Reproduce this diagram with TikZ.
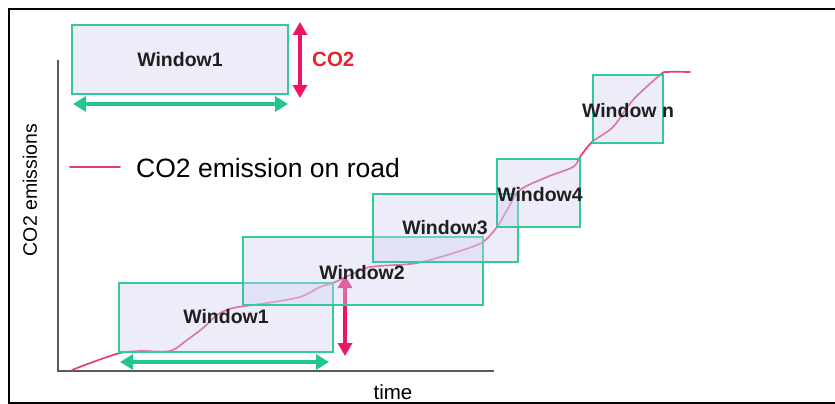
\documentclass[tikz,border=0pt]{standalone}
\usepackage{fontspec}
\setmainfont{Liberation Sans}
\usetikzlibrary{arrows.meta}

\definecolor{boxfill}{HTML}{D2D2F2}
\definecolor{boxline}{HTML}{33C99C}
\definecolor{spanarrow}{HTML}{22C68E}
\definecolor{co2arrow}{HTML}{EC1466}
\definecolor{co2text}{HTML}{E8232E}
\definecolor{roadline}{HTML}{E23C7C}
\definecolor{axisgray}{HTML}{5A5A5A}

\tikzset{
  winbox/.style={draw=boxline, line width=2pt, fill=boxfill, fill opacity=0.4,
    inner sep=0pt, outer sep=0pt, anchor=north west},
  winlabel/.style={font=\bfseries\fontsize{19.5}{21}\selectfont, text=black!88, inner sep=0pt},
  spanarr/.style={draw=spanarrow, line width=4.5pt,
    {Triangle[length=13pt,width=15pt]}-{Triangle[length=13pt,width=15pt]}},
  heightarr/.style={draw=co2arrow, line width=4.5pt,
    {Triangle[length=13pt,width=14pt]}-{Triangle[length=13pt,width=14pt]}},
  axisline/.style={draw=axisgray, line width=1.3pt},
  roadcurve/.style={draw=roadline, line width=1.7pt, line join=round, line cap=round},
}

\begin{document}
\begin{tikzpicture}[x=1pt, y=-1pt]
\useasboundingbox (0,0) rectangle (835,404);

% outer frame (open on the right)
\draw[black, line width=2.2pt] (835,9) -- (9,9) -- (9,403) -- (835,403);

% axes
\coordinate (origin) at (58,371);
\coordinate (ytop) at (58,60);
\coordinate (xend) at (494,371);
\draw[axisline] (ytop) -- (origin) -- (xend);
\node[rotate=90, font=\fontsize{19.5}{21}\selectfont, inner sep=0pt] (ylab) at (30,190) {CO2 emissions};
\node[font=\fontsize{20.5}{22}\selectfont, inner sep=0pt] (xlab) at (393,392) {time};

% legend sample: one window with its time span and CO2 height
\node[winbox, minimum width=216pt, minimum height=69pt] (wtop) at (72,25) {};
\node[winlabel] (wtoplab) at (wtop.center) {Window1};
\coordinate (ta1) at (73,104);
\coordinate (ta2) at (288,104);
\draw[spanarr] (ta1) -- (ta2);
\coordinate (tc1) at (300,22);
\coordinate (tc2) at (300,98);
\draw[heightarr] (tc1) -- (tc2);
\node[font=\bfseries\fontsize{20.5}{22}\selectfont, text=co2text, anchor=west, inner sep=0pt] (co2lab) at (312,59) {CO2};

% legend entry for the road curve
\coordinate (lg1) at (70,167);
\coordinate (lg2) at (120,167);
\draw[roadcurve, line width=2pt] (lg1) -- (lg2);
\node[font=\fontsize{26.5}{28}\selectfont, anchor=west, inner sep=0pt] (lgtext) at (136,168) {CO2 emission on road};

% cumulative CO2 emission along the road
\draw[roadcurve] plot[smooth, tension=0.5] coordinates {
  (72,370) (93,362) (120,353) (140,351) (170,351) (187,340) (203,328)
  (217,315) (233,308) (267,303) (300,297) (320,287) (333,283) (350,275)
  (370,267) (410,264) (430,260) (463,250) (483,242) (497,227) (507,210)
  (520,190) (547,177) (573,167) (580,157) (592,142) (613,127) (633,100)
  (660,75) (667,72) (690,72)};

% time span and CO2 height of the first window (drawn under the boxes)
\coordinate (ba1) at (120,362);
\coordinate (ba2) at (329,362);
\draw[spanarr] (ba1) -- (ba2);
\coordinate (bc1) at (345,275);
\coordinate (bc2) at (345,356);
\draw[heightarr] (bc1) -- (bc2);

% sliding windows
\node[winbox, minimum width=214pt, minimum height=69pt] (w1) at (119,283) {};
\node[winbox, minimum width=240pt, minimum height=68pt] (w2) at (243,237) {};
\node[winbox, minimum width=145pt, minimum height=68pt] (w3) at (373,194) {};
\node[winbox, minimum width=83pt, minimum height=68pt] (w4) at (497,159) {};
\node[winbox, minimum width=70pt, minimum height=68pt] (wn) at (593,75) {};

\node[winlabel] (w1lab) at (226,317) {Window1};
\node[winlabel] (w2lab) at (362,273) {Window2};
\node[winlabel] (w3lab) at (445,228) {Window3};
\node[winlabel] (w4lab) at (540,195) {Window4};
\node[winlabel] (wnlab) at (628,111) {Window n};
\end{tikzpicture}
\end{document}
